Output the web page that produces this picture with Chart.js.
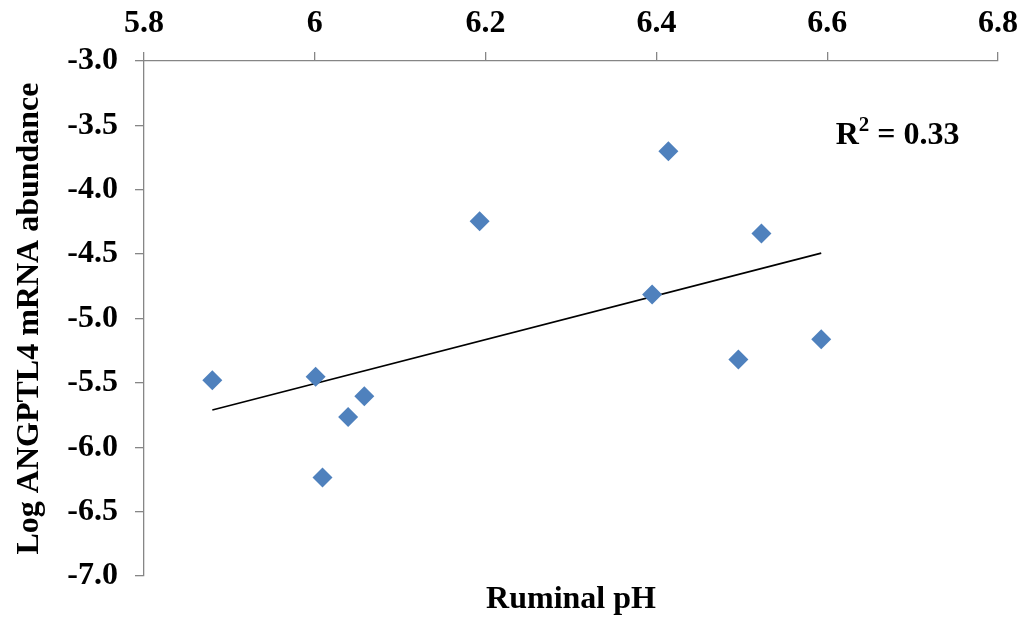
<!DOCTYPE html>
<html>
<head>
<meta charset="utf-8">
<script src="https://cdn.jsdelivr.net/npm/chart.js@4/dist/chart.umd.min.js"></script>
<style>
  html, body { margin: 0; padding: 0; background: #fff; }
  #wrap { width: 1022px; height: 618px; }
</style>
</head>
<body>
<div id="wrap"><canvas id="c" width="1022" height="618"></canvas></div>
<script>
// ---- data ----
const ruminalPH = [5.880, 6.001, 6.058, 6.039, 6.009, 6.193, 6.414, 6.523, 6.395, 6.593, 6.496];
const logANGPTL4 = [-5.479, -5.453, -5.603, -5.766, -6.234, -4.245, -3.701, -4.340, -4.814, -5.161, -5.318];
const xTickRange = [5.8, 6.8];
const yTickRange = [-7.0, -3.0];
const rSquaredLabel = ['R', '2', ' = 0.33'];
const xTitle = 'Ruminal pH';
const yTitle = 'Log ANGPTL4 mRNA abundance';

// linear least-squares trendline from the data
const n = ruminalPH.length;
const mx = ruminalPH.reduce((a, b) => a + b, 0) / n;
const my = logANGPTL4.reduce((a, b) => a + b, 0) / n;
let sxy = 0, sxx = 0;
for (let i = 0; i < n; i++) { sxy += (ruminalPH[i] - mx) * (logANGPTL4[i] - my); sxx += (ruminalPH[i] - mx) ** 2; }
const slope = sxy / sxx, intercept = my - slope * mx;
const xMin = Math.min(...ruminalPH), xMax = Math.max(...ruminalPH);
const trend = [{x: xMin, y: intercept + slope * xMin}, {x: xMax, y: intercept + slope * xMax}];

const points = ruminalPH.map((x, i) => ({x, y: logANGPTL4[i]}));

const FONT = "'Liberation Serif', 'Times New Roman', serif";
const AXIS = '#868686';

const textPlugin = {
  id: 'texts',
  afterDraw(chart) {
    const ctx = chart.ctx, ca = chart.chartArea;
    const xs = chart.scales.x, ys = chart.scales.y;
    ctx.save();
    ctx.fillStyle = '#000';
    // x axis title at bottom
    ctx.font = 'bold 32px ' + FONT;
    ctx.textAlign = 'center';
    ctx.textBaseline = 'middle';
    ctx.fillText(xTitle, (ca.left + ca.right) / 2, 600);
    // R^2 annotation
    ctx.textAlign = 'left';
    ctx.textBaseline = 'alphabetic';
    let px = xs.getPixelForValue(6.61), py = ys.getPixelForValue(-3.645);
    ctx.font = 'bold 32px ' + FONT;
    ctx.fillText(rSquaredLabel[0], px, py);
    px += ctx.measureText(rSquaredLabel[0]).width;
    ctx.font = 'bold 21px ' + FONT;
    ctx.fillText(rSquaredLabel[1], px, py - 13);
    px += ctx.measureText(rSquaredLabel[1]).width;
    ctx.font = 'bold 32px ' + FONT;
    ctx.fillText(rSquaredLabel[2], px, py);
    ctx.restore();
  }
};

new Chart(document.getElementById('c'), {
  type: 'scatter',
  data: {
    datasets: [
      {
        label: 'data',
        data: points,
        pointStyle: 'rectRot',
        pointRadius: 10,
        pointHoverRadius: 10,
        backgroundColor: '#4F81BD',
        borderColor: '#4F81BD',
        borderWidth: 0,
        order: 1
      },
      {
        label: 'trend',
        type: 'line',
        data: trend,
        borderColor: '#000',
        borderWidth: 1.6,
        pointRadius: 0,
        fill: false,
        order: 2
      }
    ]
  },
  options: {
    responsive: false,
    animation: false,
    layout: { padding: { left: 0, top: 0, right: 24, bottom: 42 } },
    plugins: { legend: { display: false }, tooltip: { enabled: false } },
    scales: {
      x: {
        type: 'linear',
        position: 'top',
        min: xTickRange[0],
        max: xTickRange[1],
        afterFit(s) { s.height = 61; s.paddingLeft = 0; s.paddingRight = 0; },
        ticks: {
          stepSize: 0.2,
          autoSkip: false,
          maxRotation: 0,
          padding: 9,
          color: '#000',
          font: { family: FONT, size: 32, weight: 'bold' },
          callback: v => String(+Number(v).toFixed(1))
        },
        grid: { display: true, drawOnChartArea: false, drawTicks: true, tickLength: 9, color: AXIS, lineWidth: 1.3 },
        border: { display: true, color: AXIS, width: 1.3 }
      },
      y: {
        type: 'linear',
        position: 'left',
        min: yTickRange[0],
        max: yTickRange[1],
        afterFit(s) { s.width = 144; s.paddingTop = 0; s.paddingBottom = 0; },
        ticks: {
          stepSize: 0.5,
          autoSkip: false,
          padding: 17,
          color: '#000',
          font: { family: FONT, size: 32, weight: 'bold' },
          callback: v => Number(v).toFixed(1)
        },
        title: {
          display: true,
          text: yTitle,
          color: '#000',
          font: { family: FONT, size: 32, weight: 'bold' },
          padding: { top: 11, bottom: 0 }
        },
        grid: { display: true, drawOnChartArea: false, drawTicks: true, tickLength: 9, color: AXIS, lineWidth: 1.3 },
        border: { display: true, color: AXIS, width: 1.3 }
      }
    }
  },
  plugins: [textPlugin]
});
</script>
</body>
</html>
